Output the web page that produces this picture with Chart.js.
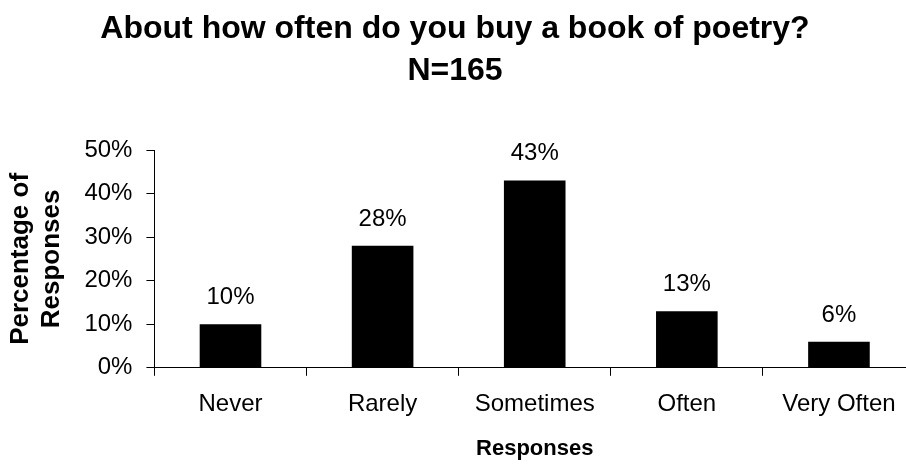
<!DOCTYPE html>
<html>
<head>
<meta charset="utf-8">
<script src="https://cdn.jsdelivr.net/npm/chart.js@4"></script>
<style>
  html, body { margin: 0; padding: 0; background: #fff; overflow: hidden; }
  #wrap { width: 930px; height: 465px; }
</style>
</head>
<body>
<div id="wrap"><canvas id="poetryChart"></canvas></div>
<script>
// survey answers, percent of respondents
const categories = ['Never', 'Rarely', 'Sometimes', 'Often', 'Very Often'];
const percents = [10, 28, 43, 13, 6];
const yTicks = [0, 10, 20, 30, 40, 50];
const titleLines = ['About how often do you buy a book of poetry?', 'N=165'];

const FONT = '"Liberation Sans", Arial, sans-serif';

// title lines + value labels over the bars
const textPlugin = {
    id: 'textPlugin',
    afterDraw(chart) {
        const ctx = chart.ctx;
        ctx.save();
        ctx.fillStyle = '#000';
        ctx.textAlign = 'center';
        ctx.textBaseline = 'alphabetic';
        ctx.font = 'bold 32px ' + FONT;
        ctx.fillText(titleLines[0], 455, 38);
        ctx.fillText(titleLines[1], 455, 80);

        ctx.font = '24px ' + FONT;
        const meta = chart.getDatasetMeta(0);
        meta.data.forEach((bar, i) => {
            ctx.fillText(percents[i] + '%', bar.x, bar.y - 20);
        });
        ctx.restore();
    }
};

new Chart(document.getElementById('poetryChart'), {
    type: 'bar',
    data: {
        labels: categories,
        datasets: [{
            data: percents,
            backgroundColor: '#000',
            borderWidth: 0,
            barPercentage: 0.405,
            categoryPercentage: 1
        }]
    },
    options: {
        responsive: true,
        maintainAspectRatio: false,
        animation: false,
        events: [],
        layout: { padding: { top: 150, right: 15, left: 3, bottom: 3 } },
        plugins: {
            legend: { display: false },
            tooltip: { enabled: false }
        },
        scales: {
            x: {
                grid: { display: true, drawOnChartArea: false, offset: true, tickLength: 8, color: '#000' },
                border: { color: '#000', width: 1 },
                ticks: { color: '#000', font: { family: FONT, size: 24 }, padding: 14, maxRotation: 0 },
                title: { display: true, text: 'Responses', color: '#000', font: { family: FONT, size: 22, weight: 'bold' }, padding: { top: 3, bottom: 0 } }
            },
            y: {
                min: 0,
                max: 50,
                afterBuildTicks: (scale) => { scale.ticks = yTicks.map(v => ({ value: v })); },
                grid: { display: true, drawOnChartArea: false, tickLength: 8, color: '#000' },
                border: { color: '#000', width: 1 },
                ticks: { color: '#000', font: { family: FONT, size: 24 }, padding: 14, callback: v => v + '%' },
                title: { display: true, text: ['Percentage of', 'Responses'], color: '#000', font: { family: FONT, size: 26, weight: 'bold', lineHeight: 1.2 }, padding: { top: 2, bottom: 3 } }
            }
        }
    },
    plugins: [textPlugin]
});
</script>
</body>
</html>
